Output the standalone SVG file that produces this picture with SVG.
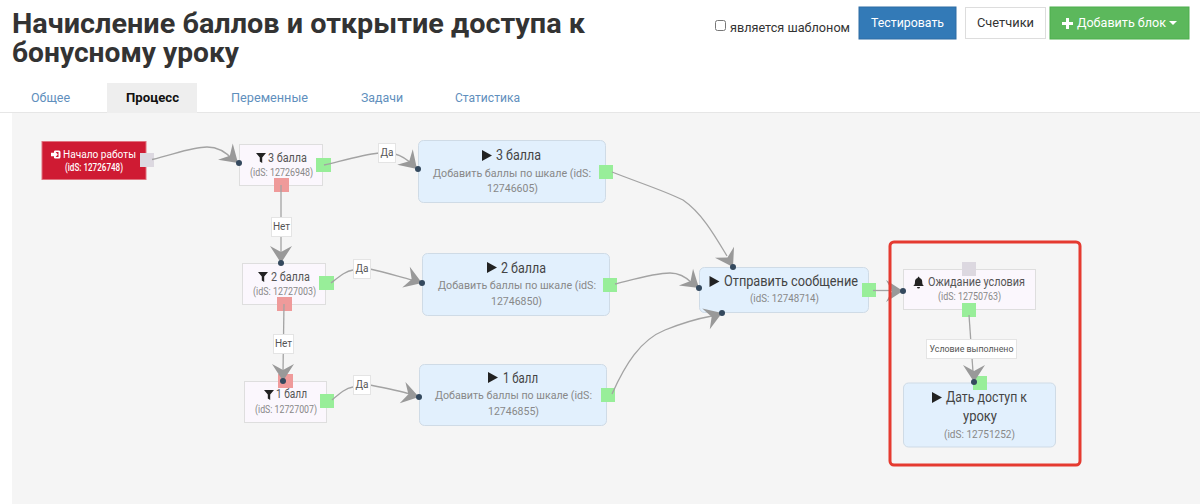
<svg xmlns="http://www.w3.org/2000/svg" width="1200" height="504" viewBox="0 0 1200 504">
<style>
text{font-family:Roboto,"Open Sans","Noto Sans",sans-serif;fill:#333}
.h{font-size:28px;font-weight:700}
.tab{font-size:12.5px;fill:#5f8fbd}
.m{text-anchor:middle}
.f{fill:#fbf7fd;stroke:#dedede;stroke-width:1}
.b{fill:#e2f0fd;stroke:#cfdbe6;stroke-width:1}
.ft{font-size:12.5px;fill:#555}
.id{font-size:10.5px;fill:#888}
.bt{font-size:14px;fill:#444}
.bs{font-size:11.5px;fill:#888}
.g{fill:#98ee99}.r{fill:#ef9a9a}.n{fill:#dcd8e0}
.c{fill:none;stroke:#a3a3a3;stroke-width:1.3}
.a{fill:#999}
.d{fill:#34495e}
.lb{fill:#fff;stroke:#e4e4e4;stroke-width:1}
.lt{font-size:10px;fill:#555;text-anchor:middle}
.ic{fill:#222}
</style>
<defs>
<polygon id="arr" points="0,0 -17,-11 -11,0 -17,11"/>
<polygon id="fun" points="0,0 10,0 6.200,4.500 6.200,10 3.800,8.500 3.800,4.500"/>
<polygon id="play" points="0,0 10,5.500 0,11"/>
</defs>
<rect width="1200" height="504" fill="#fff"/>
<g id="header">
<text class="h" x="12" y="33" textLength="573" lengthAdjust="spacingAndGlyphs">Начисление баллов и открытие доступа к</text>
<text class="h" x="12" y="62" textLength="227" lengthAdjust="spacingAndGlyphs">бонусному уроку</text>
<rect x="715.500" y="20.500" width="10" height="10" rx="2" fill="#fff" stroke="#777"/>
<text x="730" y="32" font-size="13" fill="#555" textLength="120" lengthAdjust="spacingAndGlyphs">является шаблоном</text>
<g id="btn-test"><rect x="859" y="7" width="97" height="32" fill="#337ab7" stroke="#2e6da4"/><text x="871" y="27" font-size="13" style="fill:#fff" textLength="73" lengthAdjust="spacingAndGlyphs">Тестировать</text></g>
<g id="btn-count"><rect x="965.500" y="7.500" width="80" height="31" fill="#fff" stroke="#ddd"/><text x="977" y="27" font-size="13" style="fill:#333" textLength="57" lengthAdjust="spacingAndGlyphs">Счетчики</text></g>
<g id="btn-add"><rect x="1050" y="7" width="139" height="32" fill="#5cb85c" stroke="#4cae4c"/><path d="M1066 18h3v4h4v3h-4v4h-3v-4h-4v-3h4z" fill="#fff"/><text x="1077" y="27" font-size="13" style="fill:#fff" textLength="89" lengthAdjust="spacingAndGlyphs">Добавить блок</text><polygon points="1169,21 1177,21 1173,25" fill="#fff"/></g>
</g>
<g id="tabs">
<rect x="0" y="112" width="1200" height="1" fill="#e6e6e6"/>
<rect x="107" y="83" width="90" height="30" fill="#eee"/>
<text class="tab" x="31" y="102">Общее</text>
<text x="126" y="102" font-size="12.500" font-weight="700" style="fill:#111" textLength="53" lengthAdjust="spacingAndGlyphs">Процесс</text>
<text class="tab" x="231" y="102" textLength="77" lengthAdjust="spacingAndGlyphs">Переменные</text>
<text class="tab" x="361" y="102" textLength="42" lengthAdjust="spacingAndGlyphs">Задачи</text>
<text class="tab" x="455" y="102" textLength="65" lengthAdjust="spacingAndGlyphs">Статистика</text>
</g>
<rect id="canvas" x="12" y="113" width="1188" height="391" fill="#f5f5f5"/>

<g id="n12726748">
<rect x="42" y="141.500" width="104" height="38" fill="#cf1b33" stroke="#e0737f"/>
<path d="M55 150.500h4a1.500 1.500 0 0 1 1.500 1.500v5a1.500 1.500 0 0 1-1.500 1.500h-4v-1.500h3.500v-5h-3.500zM51 152.800h3v-2.500l3.800 4.200-3.800 4.200v-2.500h-3z" fill="#fff"/>
<text x="63" y="158" font-size="11.500" style="fill:#fff" textLength="73" lengthAdjust="spacingAndGlyphs">Начало работы</text>
<text x="65" y="171" font-size="10" font-weight="500" style="fill:#fff" textLength="58" lengthAdjust="spacingAndGlyphs">(idS: 12726748)</text>
<rect class="n" x="140" y="153" width="14" height="14"/>
</g>
<g id="n12726948">
<rect class="f" x="239.500" y="144.500" width="83" height="41"/>
<use href="#fun" class="ic" x="256" y="153"/>
<text class="ft" x="268" y="162" textLength="39" lengthAdjust="spacingAndGlyphs">3 балла</text>
<text class="id" x="250" y="176" textLength="63" lengthAdjust="spacingAndGlyphs">(idS: 12726948)</text>
<rect class="g" x="316" y="158" width="15" height="14"/>
<rect class="r" x="274" y="178" width="15" height="14"/>
</g>
<g id="n12727003">
<rect class="f" x="242.500" y="263.500" width="83" height="41"/>
<use href="#fun" class="ic" x="258" y="272"/>
<text class="ft" x="271" y="281" textLength="39" lengthAdjust="spacingAndGlyphs">2 балла</text>
<text class="id" x="253" y="295" textLength="63" lengthAdjust="spacingAndGlyphs">(idS: 12727003)</text>
<rect class="g" x="319" y="276" width="15" height="14"/>
<rect class="r" x="277" y="297" width="15" height="14"/>
</g>
<g id="n12727007">
<rect class="f" x="244.500" y="381.500" width="82" height="41"/>
<use href="#fun" class="ic" x="264" y="390"/>
<text class="ft" x="276" y="398" textLength="31" lengthAdjust="spacingAndGlyphs">1 балл</text>
<text class="id" x="255" y="413" textLength="62" lengthAdjust="spacingAndGlyphs">(idS: 12727007)</text>
<rect class="r" x="278" y="374" width="15" height="14"/>
<rect class="g" x="320" y="394" width="14" height="14"/>
</g>
<g id="n12746605">
<rect class="b" x="418.500" y="140.500" width="187" height="62" rx="5"/>
<use href="#play" class="ic" x="482" y="150"/>
<text class="bt" x="496" y="160" textLength="45" lengthAdjust="spacingAndGlyphs">3 балла</text>
<text class="bs" x="433" y="177" textLength="158" lengthAdjust="spacingAndGlyphs">Добавить баллы по шкале (idS:</text>
<text class="bs" x="487" y="192" textLength="51" lengthAdjust="spacingAndGlyphs">12746605)</text>
<rect class="g" x="599" y="165" width="14" height="14"/>
</g>
<g id="n12746850">
<rect class="b" x="422.500" y="253.500" width="187" height="62" rx="5"/>
<use href="#play" class="ic" x="487" y="262"/>
<text class="bt" x="501" y="273" textLength="45" lengthAdjust="spacingAndGlyphs">2 балла</text>
<text class="bs" x="438" y="289" textLength="158" lengthAdjust="spacingAndGlyphs">Добавить баллы по шкале (idS:</text>
<text class="bs" x="491" y="305" textLength="51" lengthAdjust="spacingAndGlyphs">12746850)</text>
<rect class="g" x="603" y="278" width="14" height="14"/>
</g>
<g id="n12746855">
<rect class="b" x="419.500" y="364.500" width="187" height="61" rx="5"/>
<use href="#play" class="ic" x="488" y="372"/>
<text class="bt" x="503" y="383" textLength="35" lengthAdjust="spacingAndGlyphs">1 балл</text>
<text class="bs" x="435" y="399" textLength="157" lengthAdjust="spacingAndGlyphs">Добавить баллы по шкале (idS:</text>
<text class="bs" x="488" y="415" textLength="51" lengthAdjust="spacingAndGlyphs">12746855)</text>
<rect class="g" x="601" y="388" width="14" height="14"/>
</g>
<g id="n12748714">
<rect class="b" x="699.500" y="267.500" width="169" height="45" rx="5"/>
<use href="#play" class="ic" x="709.500" y="276"/>
<text class="bt" x="724" y="286" textLength="134" lengthAdjust="spacingAndGlyphs">Отправить сообщение</text>
<text class="id" x="750" y="302" style="font-size:11px" textLength="69" lengthAdjust="spacingAndGlyphs">(idS: 12748714)</text>
<rect class="g" x="862" y="283" width="14" height="14"/>
</g>
<g id="n12750763">
<rect class="f" x="903.500" y="269.500" width="132" height="40"/>
<path d="M913 286h11c-1.500-1-1.800-2.200-1.800-4.500 0-2-1-3.200-2.700-3.600 0-1.600-1.800-1.600-1.800 0-1.700.4-2.700 1.600-2.700 3.600 0 2.300-.3 3.500-1.800 4.500zM917 287h3a1.500 1.500 0 0 1-3 0z" class="ic"/>
<text class="ft" x="928" y="286" textLength="97" lengthAdjust="spacingAndGlyphs">Ожидание условия</text>
<text class="id" x="938" y="300" textLength="63" lengthAdjust="spacingAndGlyphs">(idS: 12750763)</text>
<rect class="n" x="962" y="262" width="14" height="14"/>
<rect class="g" x="962" y="303" width="14" height="14"/>
</g>
<g id="n12751252">
<rect class="b" x="903.500" y="383" width="152" height="64" rx="5"/>
<use href="#play" class="ic" x="932" y="392"/>
<text class="bt" x="946" y="402" textLength="81" lengthAdjust="spacingAndGlyphs">Дать доступ к</text>
<text class="bt" x="963" y="421" textLength="34" lengthAdjust="spacingAndGlyphs">уроку</text>
<text class="id" x="944" y="438" style="font-size:11px" textLength="71" lengthAdjust="spacingAndGlyphs">(idS: 12751252)</text>
<rect class="g" x="973" y="376" width="14" height="14"/>
</g>

<g id="connectors">
<path class="c" d="M152 159.500C175 154 192 147 207 147C219 147 227 153 233 160"/>
<path class="c" d="M324 165C345 160 362 155 379 153M395 154C403 156 410 162 414 166"/>
<path class="c" d="M281 185V258"/>
<path class="c" d="M331 283C340 276 346 271 353 270M370 269C385 272 400 277 412 280"/>
<path class="c" d="M284 304L283 372"/>
<path class="c" d="M332 400C340 393 346 388 353 387M370 385C385 388 400 391 410 394"/>
<path class="c" d="M612 172C640 183 665 191 683 200C702 213 715 236 727 256"/>
<path class="c" d="M615 284C635 279 655 273 670 273C680 273 687 278 692 283"/>
<path class="c" d="M612 394C625 365 640 340 665 330C680 324 695 319 712 316"/>
<path class="c" d="M873 290.500H895"/>
<path class="c" d="M969 315L973 372"/>
<use href="#arr" class="a" transform="translate(238 163) rotate(42)"/>
<use href="#arr" class="a" transform="translate(417 169) rotate(45)"/>
<use href="#arr" class="a" transform="translate(281 263) rotate(90)"/>
<use href="#arr" class="a" transform="translate(283 381) rotate(90)"/>
<use href="#arr" class="a" transform="translate(422 283) rotate(20)"/>
<use href="#arr" class="a" transform="translate(419 397) rotate(15)"/>
<use href="#arr" class="a" transform="translate(733 267) rotate(60)"/>
<use href="#arr" class="a" transform="translate(699 288) rotate(40)"/>
<use href="#arr" class="a" transform="translate(722 313) rotate(-20)"/>
<use href="#arr" class="a" transform="translate(903 291)"/>
<use href="#arr" class="a" transform="translate(974 382) rotate(90)"/>
<circle class="d" cx="239" cy="163" r="3"/>
<circle class="d" cx="418" cy="169" r="3"/>
<circle class="d" cx="281" cy="263" r="3"/>
<circle class="d" cx="283" cy="381" r="3"/>
<circle class="d" cx="422" cy="283" r="3"/>
<circle class="d" cx="419" cy="397" r="3"/>
<circle class="d" cx="733" cy="267" r="3"/>
<circle class="d" cx="699" cy="288" r="3"/>
<circle class="d" cx="722" cy="313" r="3"/>
<circle class="d" cx="903" cy="291" r="3"/>
<circle class="d" cx="974" cy="382" r="3"/>
<rect class="lb" x="378.500" y="143.500" width="17" height="19"/><text class="lt" x="387" y="156">Да</text>
<rect class="lb" x="271.500" y="217.500" width="20" height="19"/><text class="lt" x="281.500" y="230">Нет</text>
<rect class="lb" x="353.500" y="259.500" width="17" height="19"/><text class="lt" x="362" y="272">Да</text>
<rect class="lb" x="273.500" y="334.500" width="20" height="19"/><text class="lt" x="283.500" y="347">Нет</text>
<rect class="lb" x="353.500" y="375.500" width="17" height="19"/><text class="lt" x="362" y="388">Да</text>
<rect class="lb" x="926.500" y="339.500" width="90" height="19"/><text class="lt" x="971.500" y="352" style="font-size:9.500px" textLength="84" lengthAdjust="spacingAndGlyphs">Условие выполнено</text>
</g>
<rect id="highlight" x="890" y="242" width="190" height="223" rx="4" fill="none" stroke="#e53a30" stroke-width="3"/>
</svg>
